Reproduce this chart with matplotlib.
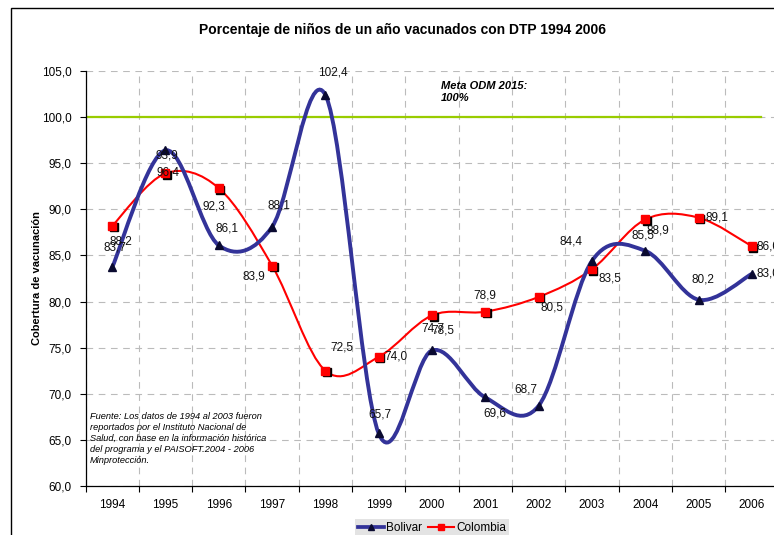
import numpy as np
import matplotlib
matplotlib.use("Agg")
import matplotlib.pyplot as plt
from matplotlib.path import Path
from matplotlib.patches import PathPatch, Rectangle
from matplotlib.lines import Line2D
import matplotlib.transforms as mtransforms

plt.rcParams['font.family'] = ['Liberation Sans', 'DejaVu Sans']

years = ["1994", "1995", "1996", "1997", "1998", "1999", "2000",
         "2001", "2002", "2003", "2004", "2005", "2006"]
bolivar = [83.7, 96.4, 86.1, 88.1, 102.4, 65.7, 74.7, 69.6, 68.7, 84.4, 85.5, 80.2, 83.0]
colombia = [88.2, 93.9, 92.3, 83.9, 72.5, 74.0, 78.5, 78.9, 80.5, 83.5, 88.9, 89.1, 86.0]
meta = 100.0
y_ticks = [60, 65, 70, 75, 80, 85, 90, 95, 100, 105]

# label offsets in pixels (dx, dy, image y downwards)
bol_off = [(3, -20), (3, 22), (8, -17), (7, -21), (7, -22), (1, -19), (1, -22),
           (10, 16), (-13, -16), (-21, -19), (-2, -15), (4, -20), (16, 0)]
col_off = [(9, 16), (1, -18), (-5, 18), (-18, 11), (16, -23), (17, 0), (11, 15),
           (-1, -16), (13, 11), (18, 9), (13, 11), (18, 0), (16, 0)]

BLUE = "#333399"
RED = "#FF0000"
W, H = 774, 535


def smooth_path(xs, ys):
    # Excel-like smoothed line: cubic bezier, catmull-rom control points
    pts = np.column_stack([xs, ys]).astype(float)
    n = len(pts)
    verts = [pts[0]]
    codes = [Path.MOVETO]
    for i in range(n - 1):
        p0 = pts[max(i - 1, 0)]
        p1 = pts[i]
        p2 = pts[i + 1]
        p3 = pts[min(i + 2, n - 1)]
        c1 = p1 + (p2 - p0) / 6.0
        c2 = p2 - (p3 - p1) / 6.0
        verts += [c1, c2, p2]
        codes += [Path.CURVE4] * 3
    return Path(verts, codes)


fig = plt.figure(figsize=(W / 100, H / 100), dpi=100)
ax = fig.add_axes([85.5 / W, 49 / H, 693 / W, 415 / H])

x = np.arange(len(years))

ax.set_xlim(-0.5, len(years) - 0.5)
ax.set_ylim(60, 105)

# goal line
ax.plot([-0.5, 12.17], [meta, meta], color="#99CC00", lw=1.6, zorder=2)

ax.add_patch(PathPatch(smooth_path(x, colombia), fill=False, edgecolor=RED, lw=1.5, zorder=3))
ax.add_patch(PathPatch(smooth_path(x, bolivar), fill=False, edgecolor=BLUE, lw=2.8, zorder=4))

shadow = mtransforms.offset_copy(ax.transData, fig=fig, x=1.5, y=-1.5, units='dots')
ax.plot(x, colombia, ls='none', marker='s', ms=5.5, color='black', transform=shadow, zorder=5)
ax.plot(x, colombia, ls='none', marker='s', ms=5.5, color=RED, mec=RED, zorder=6)
ax.plot(x, bolivar, ls='none', marker='^', ms=5.5, color='#0a0a30', mec='#0a0a30', zorder=6)

for xi, v, (dx, dy) in zip(x, bolivar, bol_off):
    ax.annotate(f"{v:.1f}".replace(".", ","), (xi, v), xytext=(dx, -dy),
                textcoords='offset pixels', ha='center', va='center',
                fontsize=8.5, color='#111111', zorder=7, annotation_clip=False)
for xi, v, (dx, dy) in zip(x, colombia, col_off):
    ax.annotate(f"{v:.1f}".replace(".", ","), (xi, v), xytext=(dx, -dy),
                textcoords='offset pixels', ha='center', va='center',
                fontsize=8.5, color='#111111', zorder=7, annotation_clip=False)

# axes / ticks
ax.set_xticks(np.arange(-0.5, len(years), 1.0))
ax.set_xticklabels([])
ax.set_xticks(x, minor=True)
ax.set_xticklabels(years, minor=True, fontsize=8.5)
ax.tick_params(axis='x', which='minor', length=0, pad=9)
ax.tick_params(axis='x', which='major', length=4, width=0.8, direction='out')
ax.set_yticks(y_ticks)
ax.set_yticklabels([f"{t:.1f}".replace(".", ",") for t in y_ticks], fontsize=8.5)
ax.tick_params(axis='y', length=4, width=0.8, direction='out', pad=6)

ax.grid(True, which='major', color='#BBBBBB', lw=0.8, ls=(0, (6, 5)))
ax.set_axisbelow(True)
for s in ['top', 'right']:
    ax.spines[s].set_visible(False)
ax.spines['left'].set_linewidth(0.9)
ax.spines['bottom'].set_linewidth(0.9)

fig.text(403 / W, 1 - 30 / H, "Porcentaje de niños de un año vacunados con DTP 1994 2006",
         ha='center', va='center', fontsize=10, fontweight='bold')
fig.text(37 / W, 1 - 278 / H, "Cobertura de vacunación", rotation=90,
         ha='center', va='center', fontsize=8, fontweight='bold')
fig.text(441 / W, 1 - 81 / H, "Meta ODM 2015:\n100%", ha='left', va='top',
         fontsize=8, fontweight='bold', style='italic', linespacing=1.25)
fig.text(90 / W, 1 - 412 / H,
         "Fuente: Los datos de 1994 al 2003 fueron\n"
         "reportados por el Instituto Nacional de\n"
         "Salud, con base en la información histórica\n"
         "del programa y el PAISOFT.2004 - 2006\n"
         "Minprotección.",
         ha='left', va='top', fontsize=6.7, style='italic', linespacing=1.28)

handles = [Line2D([], [], color=BLUE, lw=2.7, marker='^', ms=5, mfc='#0a0a30', mec='#0a0a30'),
           Line2D([], [], color=RED, lw=1.5, marker='s', ms=5, mfc=RED, mec=RED)]
leg = fig.legend(handles, ["Bolivar", "Colombia"], loc='center',
                 bbox_to_anchor=(432 / W, 1 - 528 / H), ncol=2, fontsize=8.5,
                 frameon=True, fancybox=False, handlelength=2.2, handletextpad=0.2,
                 columnspacing=0.5, borderpad=0.25)
leg.get_frame().set_facecolor('#DDDDDD')
leg.get_frame().set_edgecolor('none')

# outer chart border (cut on the right/bottom in the original)
fig.add_artist(Rectangle((11 / W, -0.1), 1.2, 1 - 8 / H + 0.1, transform=fig.transFigure,
                         fill=False, edgecolor='black', lw=1.0, clip_on=False))

fig.savefig("out.png", dpi=100)
